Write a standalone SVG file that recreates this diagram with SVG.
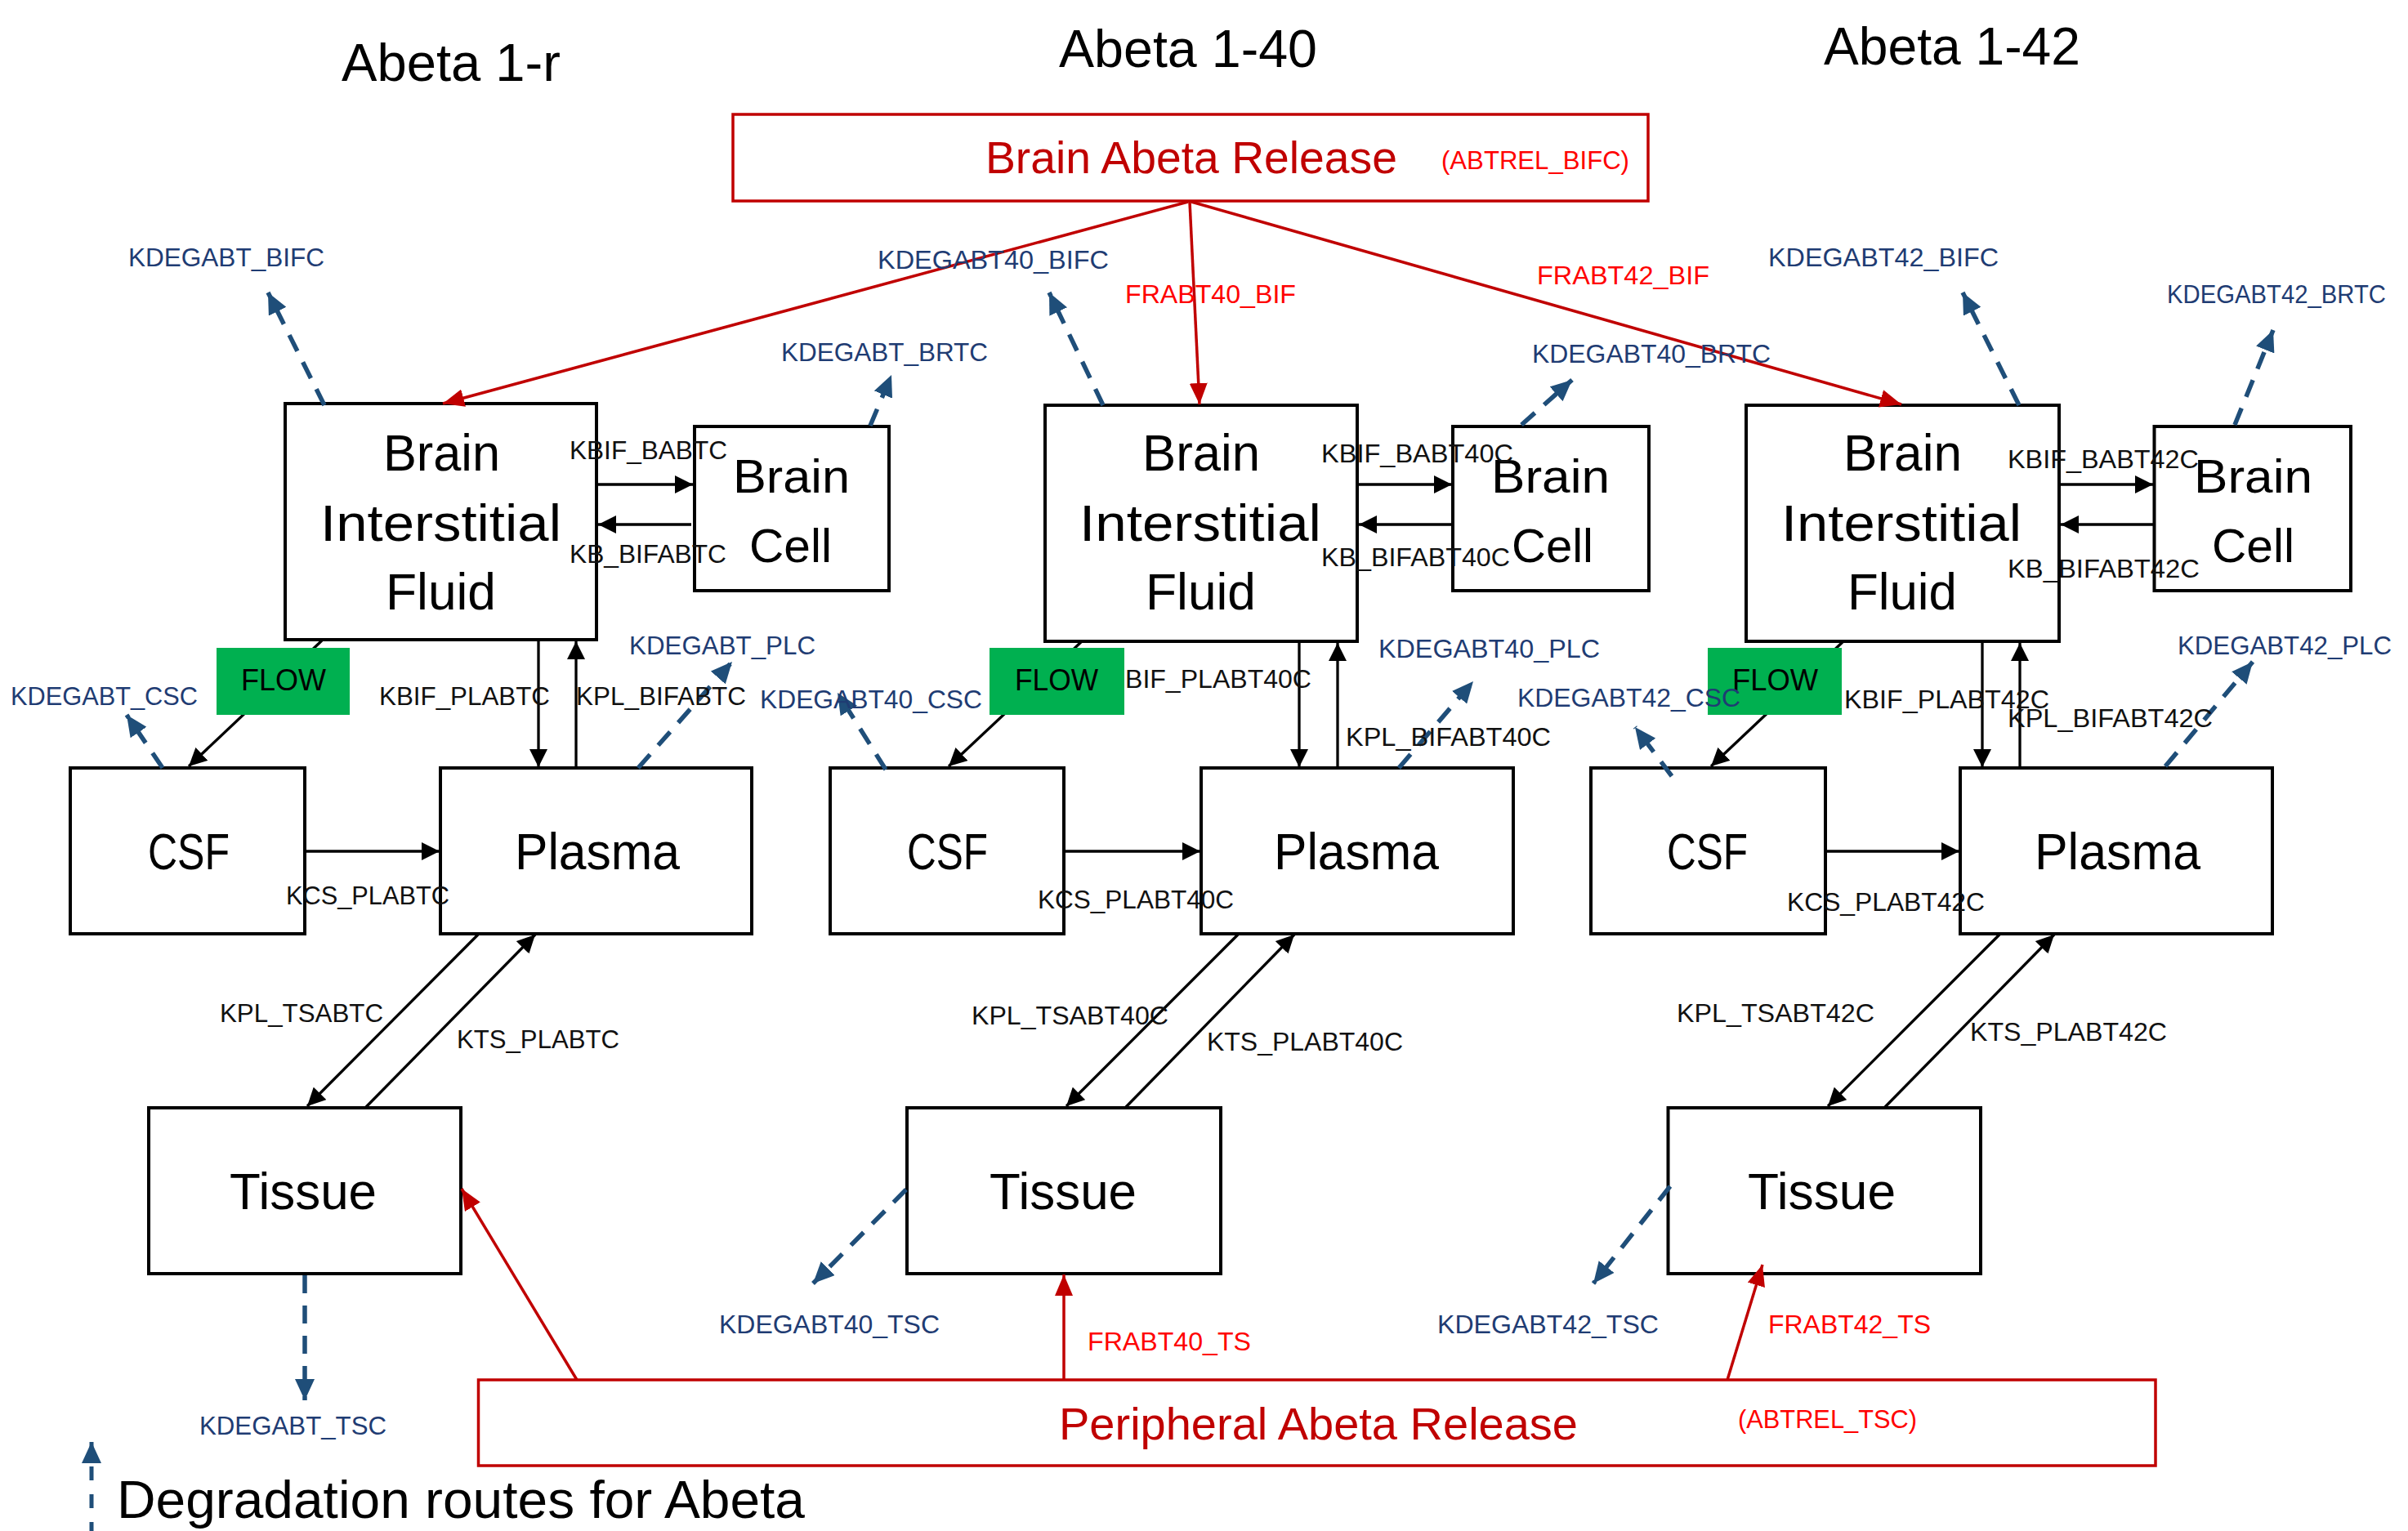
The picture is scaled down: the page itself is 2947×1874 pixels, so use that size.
<svg xmlns="http://www.w3.org/2000/svg" width="2947" height="1874" viewBox="0 0 2947 1874">
<style>
text{font-family:"Liberation Sans",Arial,sans-serif}
.box{fill:#fff;stroke:#000;stroke-width:4}
.rbox{fill:#fff;stroke:#C00000;stroke-width:3.5}
.flow{fill:#00B050}
.big{font-size:63px;fill:#000}
.bc{font-size:57px;fill:#000}
.ttl{font-size:65px;fill:#000}
.lbl{font-size:32px;fill:#111}
.nav{font-size:32px;fill:#1F3C73}
.red{font-size:32px;fill:#FF0000}
.rel{font-size:55px;fill:#C00000}
.relc{font-size:31px;fill:#FF0000}
.fl{font-size:37px;fill:#000}
.ar{stroke:#000;stroke-width:3.3;fill:none;marker-end:url(#ab)}
.ra{stroke:#C00000;stroke-width:3.5;fill:none;marker-end:url(#ar)}
.da{stroke:#1F4E79;stroke-width:5.5;fill:none;stroke-dasharray:22 15;marker-end:url(#an)}
</style>
<defs>
<marker id="ab" viewBox="0 0 22 22" refX="22" refY="11" markerWidth="22" markerHeight="22" markerUnits="userSpaceOnUse" orient="auto"><path d="M0,0 L22,11 L0,22 z" fill="#000"/></marker>
<marker id="ar" viewBox="0 0 26 22" refX="26" refY="11" markerWidth="26" markerHeight="22" markerUnits="userSpaceOnUse" orient="auto"><path d="M0,0 L26,11 L0,22 z" fill="#C00000"/></marker>
<marker id="an" viewBox="0 0 26 24" refX="26" refY="12" markerWidth="26" markerHeight="24" markerUnits="userSpaceOnUse" orient="auto"><path d="M0,0 L26,12 L0,24 z" fill="#1F4E79"/></marker>
</defs>
<rect width="2947" height="1874" fill="#fff"/>

<g id="titles">
<text class="ttl" x="418" y="99" textLength="268" lengthAdjust="spacingAndGlyphs">Abeta 1-r</text>
<text class="ttl" x="1296" y="82" textLength="316" lengthAdjust="spacingAndGlyphs">Abeta 1-40</text>
<text class="ttl" x="2232" y="79" textLength="314" lengthAdjust="spacingAndGlyphs">Abeta 1-42</text>
</g>

<g id="brain-release">
<rect class="rbox" x="897" y="140" width="1120" height="106"/>
<text class="rel" x="1206" y="212" textLength="504" lengthAdjust="spacingAndGlyphs">Brain Abeta Release</text>
<text class="relc" x="1764" y="207" textLength="230" lengthAdjust="spacingAndGlyphs">(ABTREL_BIFC)</text>
</g>

<g id="bif1">
<rect class="box" x="349" y="494" width="381" height="289"/>
<text class="big" x="469" y="576" textLength="143" lengthAdjust="spacingAndGlyphs">Brain</text>
<text class="big" x="392" y="662" textLength="295" lengthAdjust="spacingAndGlyphs">Interstitial</text>
<text class="big" x="472" y="746" textLength="135" lengthAdjust="spacingAndGlyphs">Fluid</text>
</g>
<g id="bc1">
<rect class="box" x="850" y="522" width="238" height="201"/>
<text class="bc" x="897" y="603" textLength="143" lengthAdjust="spacingAndGlyphs">Brain</text>
<text class="bc" x="917" y="688" textLength="101" lengthAdjust="spacingAndGlyphs">Cell</text>
</g>
<g id="csf1">
<rect class="box" x="86" y="940" width="287" height="203"/>
<text class="big" x="181" y="1064" textLength="100" lengthAdjust="spacingAndGlyphs">CSF</text>
</g>
<g id="plasma1">
<rect class="box" x="539" y="940" width="381" height="203"/>
<text class="big" x="630" y="1064" textLength="202" lengthAdjust="spacingAndGlyphs">Plasma</text>
</g>
<g id="tissue1">
<rect class="box" x="182" y="1356" width="382" height="203"/>
<text class="big" x="281" y="1480" textLength="180" lengthAdjust="spacingAndGlyphs">Tissue</text>
</g>

<g id="bif2">
<rect class="box" x="1279" y="496" width="382" height="289"/>
<text class="big" x="1398" y="576" textLength="144" lengthAdjust="spacingAndGlyphs">Brain</text>
<text class="big" x="1321" y="662" textLength="296" lengthAdjust="spacingAndGlyphs">Interstitial</text>
<text class="big" x="1402" y="746" textLength="135" lengthAdjust="spacingAndGlyphs">Fluid</text>
</g>
<g id="bc2">
<rect class="box" x="1778" y="522" width="240" height="201"/>
<text class="bc" x="1825" y="603" textLength="145" lengthAdjust="spacingAndGlyphs">Brain</text>
<text class="bc" x="1850" y="688" textLength="100" lengthAdjust="spacingAndGlyphs">Cell</text>
</g>
<g id="csf2">
<rect class="box" x="1016" y="940" width="286" height="203"/>
<text class="big" x="1110" y="1064" textLength="99" lengthAdjust="spacingAndGlyphs">CSF</text>
</g>
<g id="plasma2">
<rect class="box" x="1470" y="940" width="382" height="203"/>
<text class="big" x="1559" y="1064" textLength="202" lengthAdjust="spacingAndGlyphs">Plasma</text>
</g>
<g id="tissue2">
<rect class="box" x="1110" y="1356" width="384" height="203"/>
<text class="big" x="1211" y="1480" textLength="180" lengthAdjust="spacingAndGlyphs">Tissue</text>
</g>

<g id="bif3">
<rect class="box" x="2137" y="496" width="383" height="289"/>
<text class="big" x="2256" y="576" textLength="145" lengthAdjust="spacingAndGlyphs">Brain</text>
<text class="big" x="2180" y="662" textLength="294" lengthAdjust="spacingAndGlyphs">Interstitial</text>
<text class="big" x="2261" y="746" textLength="134" lengthAdjust="spacingAndGlyphs">Fluid</text>
</g>
<g id="bc3">
<rect class="box" x="2636.5" y="522" width="240.5" height="201"/>
<text class="bc" x="2685" y="603" textLength="145" lengthAdjust="spacingAndGlyphs">Brain</text>
<text class="bc" x="2707" y="688" textLength="101" lengthAdjust="spacingAndGlyphs">Cell</text>
</g>
<g id="csf3">
<rect class="box" x="1947" y="940" width="287" height="203"/>
<text class="big" x="2040" y="1064" textLength="99" lengthAdjust="spacingAndGlyphs">CSF</text>
</g>
<g id="plasma3">
<rect class="box" x="2399" y="940" width="382" height="203"/>
<text class="big" x="2490" y="1064" textLength="203" lengthAdjust="spacingAndGlyphs">Plasma</text>
</g>
<g id="tissue3">
<rect class="box" x="2041.5" y="1356" width="382.5" height="203"/>
<text class="big" x="2139" y="1480" textLength="181" lengthAdjust="spacingAndGlyphs">Tissue</text>
</g>

<g id="periph-release">
<rect class="rbox" x="585.5" y="1689" width="2052.5" height="105"/>
<text class="rel" x="1296" y="1762" textLength="635" lengthAdjust="spacingAndGlyphs">Peripheral Abeta Release</text>
<text class="relc" x="2127" y="1748" textLength="219" lengthAdjust="spacingAndGlyphs">(ABTREL_TSC)</text>
</g>

<g id="connectors">
<line class="ra" x1="1454" y1="247" x2="542" y2="494"/>
<line class="ra" x1="1456" y1="247" x2="1468" y2="495"/>
<line class="ra" x1="1458" y1="247" x2="2327" y2="495"/>
<line class="ra" x1="706" y1="1689" x2="565" y2="1455"/>
<line class="ra" x1="1302" y1="1689" x2="1302" y2="1560"/>
<line class="ra" x1="2114" y1="1689" x2="2157" y2="1548"/>
<line class="ar" x1="730" y1="593" x2="848" y2="593"/>
<line class="ar" x1="846" y1="642" x2="732" y2="642"/>
<line class="ar" x1="394" y1="784" x2="231" y2="938"/>
<line class="ar" x1="659" y1="784" x2="659" y2="939"/>
<line class="ar" x1="705" y1="939" x2="705" y2="785"/>
<line class="ar" x1="373" y1="1042" x2="538" y2="1042"/>
<line class="ar" x1="585" y1="1144" x2="376" y2="1354"/>
<line class="ar" x1="447" y1="1356" x2="655" y2="1144"/>
<line class="ar" x1="1661" y1="593" x2="1777" y2="593"/>
<line class="ar" x1="1776" y1="642" x2="1663" y2="642"/>
<line class="ar" x1="1324" y1="785" x2="1161" y2="938"/>
<line class="ar" x1="1590" y1="786" x2="1590" y2="939"/>
<line class="ar" x1="1637" y1="939" x2="1637" y2="787"/>
<line class="ar" x1="1302" y1="1042" x2="1469" y2="1042"/>
<line class="ar" x1="1515" y1="1144" x2="1305" y2="1354"/>
<line class="ar" x1="1377" y1="1356" x2="1584" y2="1144"/>
<line class="ar" x1="2520" y1="593" x2="2635" y2="593"/>
<line class="ar" x1="2635" y1="642" x2="2522" y2="642"/>
<line class="ar" x1="2256" y1="785" x2="2094" y2="938"/>
<line class="ar" x1="2426" y1="786" x2="2426" y2="939"/>
<line class="ar" x1="2472" y1="939" x2="2472" y2="787"/>
<line class="ar" x1="2234" y1="1042" x2="2398" y2="1042"/>
<line class="ar" x1="2447" y1="1144" x2="2237" y2="1354"/>
<line class="ar" x1="2306" y1="1356" x2="2514" y2="1144"/>
<line class="da" x1="397" y1="496" x2="328" y2="358"/>
<line class="da" x1="1065" y1="521" x2="1091" y2="459"/>
<line class="da" x1="199" y1="940" x2="155" y2="875"/>
<line class="da" x1="781" y1="940" x2="896" y2="810"/>
<line class="da" x1="373" y1="1561" x2="373" y2="1714"/>
<line class="da" x1="1350" y1="496" x2="1284" y2="358"/>
<line class="da" x1="1862" y1="520" x2="1924" y2="465"/>
<line class="da" x1="1084" y1="942" x2="1025" y2="848"/>
<line class="da" x1="1712" y1="940" x2="1803" y2="834"/>
<line class="da" x1="1109" y1="1456" x2="995" y2="1571"/>
<line class="da" x1="2471" y1="496" x2="2402" y2="358"/>
<line class="da" x1="2735" y1="520" x2="2782" y2="404"/>
<line class="da" x1="2046" y1="950" x2="2001" y2="890"/>
<line class="da" x1="2650" y1="938" x2="2757" y2="810"/>
<line class="da" x1="2044" y1="1452" x2="1950" y2="1571"/>
<line x1="112" y1="1880" x2="112" y2="1765" stroke="#1F4E79" stroke-width="5" stroke-dasharray="17 17" marker-end="url(#an)"/>
</g>

<g id="flow1">
<rect class="flow" x="265" y="793" width="163" height="82"/>
<text class="fl" x="295" y="845" textLength="104" lengthAdjust="spacingAndGlyphs">FLOW</text>
</g>
<g id="flow2">
<rect class="flow" x="1211" y="793" width="165" height="82"/>
<text class="fl" x="1242" y="845" textLength="102" lengthAdjust="spacingAndGlyphs">FLOW</text>
</g>
<g id="flow3">
<rect class="flow" x="2090" y="793" width="164" height="82"/>
<text class="fl" x="2120" y="845" textLength="105" lengthAdjust="spacingAndGlyphs">FLOW</text>
</g>

<g id="labels">
<text class="nav" x="157" y="326" textLength="240" lengthAdjust="spacingAndGlyphs">KDEGABT_BIFC</text>
<text class="nav" x="956" y="442" textLength="253" lengthAdjust="spacingAndGlyphs">KDEGABT_BRTC</text>
<text class="lbl" x="697" y="562" textLength="193" lengthAdjust="spacingAndGlyphs">KBIF_BABTC</text>
<text class="lbl" x="697" y="689" textLength="192" lengthAdjust="spacingAndGlyphs">KB_BIFABTC</text>
<text class="nav" x="13" y="863" textLength="229" lengthAdjust="spacingAndGlyphs">KDEGABT_CSC</text>
<text class="lbl" x="464" y="863" textLength="209" lengthAdjust="spacingAndGlyphs">KBIF_PLABTC</text>
<text class="lbl" x="705" y="863" textLength="208" lengthAdjust="spacingAndGlyphs">KPL_BIFABTC</text>
<text class="nav" x="770" y="801" textLength="228" lengthAdjust="spacingAndGlyphs">KDEGABT_PLC</text>
<text class="lbl" x="350" y="1107" textLength="200" lengthAdjust="spacingAndGlyphs">KCS_PLABTC</text>
<text class="lbl" x="269" y="1251" textLength="200" lengthAdjust="spacingAndGlyphs">KPL_TSABTC</text>
<text class="lbl" x="559" y="1283" textLength="199" lengthAdjust="spacingAndGlyphs">KTS_PLABTC</text>
<text class="nav" x="244" y="1756" textLength="229" lengthAdjust="spacingAndGlyphs">KDEGABT_TSC</text>

<text class="nav" x="1074" y="329" textLength="283" lengthAdjust="spacingAndGlyphs">KDEGABT40_BIFC</text>
<text class="red" x="1377" y="371" textLength="209" lengthAdjust="spacingAndGlyphs">FRABT40_BIF</text>
<text class="nav" x="1875" y="444" textLength="292" lengthAdjust="spacingAndGlyphs">KDEGABT40_BRTC</text>
<text class="lbl" x="1617" y="566" textLength="235" lengthAdjust="spacingAndGlyphs">KBIF_BABT40C</text>
<text class="lbl" x="1617" y="693" textLength="231" lengthAdjust="spacingAndGlyphs">KB_BIFABT40C</text>
<text class="nav" x="930" y="867" textLength="272" lengthAdjust="spacingAndGlyphs">KDEGABT40_CSC</text>
<text class="lbl" x="1377" y="842" textLength="228" lengthAdjust="spacingAndGlyphs">BIF_PLABT40C</text>
<text class="nav" x="1687" y="805" textLength="271" lengthAdjust="spacingAndGlyphs">KDEGABT40_PLC</text>
<text class="lbl" x="1647" y="913" textLength="251" lengthAdjust="spacingAndGlyphs">KPL_BIFABT40C</text>
<text class="lbl" x="1270" y="1112" textLength="240" lengthAdjust="spacingAndGlyphs">KCS_PLABT40C</text>
<text class="lbl" x="1189" y="1254" textLength="241" lengthAdjust="spacingAndGlyphs">KPL_TSABT40C</text>
<text class="lbl" x="1477" y="1286" textLength="240" lengthAdjust="spacingAndGlyphs">KTS_PLABT40C</text>
<text class="nav" x="880" y="1632" textLength="270" lengthAdjust="spacingAndGlyphs">KDEGABT40_TSC</text>
<text class="red" x="1331" y="1653" textLength="200" lengthAdjust="spacingAndGlyphs">FRABT40_TS</text>

<text class="red" x="1881" y="348" textLength="211" lengthAdjust="spacingAndGlyphs">FRABT42_BIF</text>
<text class="nav" x="2164" y="326" textLength="282" lengthAdjust="spacingAndGlyphs">KDEGABT42_BIFC</text>
<text class="nav" x="2652" y="371" textLength="268" lengthAdjust="spacingAndGlyphs">KDEGABT42_BRTC</text>
<text class="lbl" x="2457" y="573" textLength="234" lengthAdjust="spacingAndGlyphs">KBIF_BABT42C</text>
<text class="lbl" x="2457" y="707" textLength="235" lengthAdjust="spacingAndGlyphs">KB_BIFABT42C</text>
<text class="nav" x="1857" y="865" textLength="273" lengthAdjust="spacingAndGlyphs">KDEGABT42_CSC</text>
<text class="lbl" x="2257" y="867" textLength="251" lengthAdjust="spacingAndGlyphs">KBIF_PLABT42C</text>
<text class="lbl" x="2457" y="890" textLength="251" lengthAdjust="spacingAndGlyphs">KPL_BIFABT42C</text>
<text class="nav" x="2665" y="801" textLength="262" lengthAdjust="spacingAndGlyphs">KDEGABT42_PLC</text>
<text class="lbl" x="2187" y="1115" textLength="242" lengthAdjust="spacingAndGlyphs">KCS_PLABT42C</text>
<text class="lbl" x="2052" y="1251" textLength="242" lengthAdjust="spacingAndGlyphs">KPL_TSABT42C</text>
<text class="lbl" x="2411" y="1274" textLength="241" lengthAdjust="spacingAndGlyphs">KTS_PLABT42C</text>
<text class="nav" x="1759" y="1632" textLength="271" lengthAdjust="spacingAndGlyphs">KDEGABT42_TSC</text>
<text class="red" x="2164" y="1632" textLength="199" lengthAdjust="spacingAndGlyphs">FRABT42_TS</text>
</g>

<g id="legend">
<text class="ttl" x="143" y="1858" textLength="842" lengthAdjust="spacingAndGlyphs">Degradation routes for Abeta</text>
</g>
</svg>
